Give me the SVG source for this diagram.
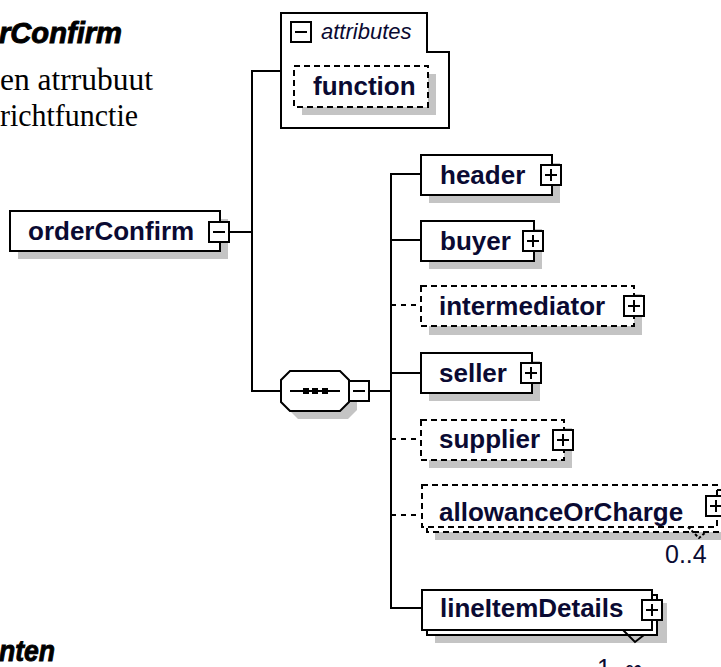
<svg xmlns="http://www.w3.org/2000/svg" xmlns:xlink="http://www.w3.org/1999/xlink" width="721" height="667" viewBox="0 0 721 667">
<style>
.box{fill:#fff;stroke:#000;stroke-width:2}
.dbox{fill:#fff;stroke:#000;stroke-width:2;stroke-dasharray:6 4}
.sh{fill:#c4c4c4}
.lbl{font-family:"Liberation Sans",Arial,sans-serif;font-weight:bold;font-size:26px;fill:#0a0a32}
.ln{stroke:#000;stroke-width:2;fill:none}
.dl{stroke:#000;stroke-width:2;fill:none;stroke-dasharray:5 5}
.ttl{font-family:"Liberation Sans",Arial,sans-serif;font-weight:bold;font-style:italic;font-size:29px;fill:#000;stroke:#000;stroke-width:0.9}
.ser{font-family:"Liberation Serif","Times New Roman",serif;font-size:31px;fill:#000}
.occ{font-family:"Liberation Sans",Arial,sans-serif;font-size:25px;fill:#0a0a32}
</style>
<defs>
<g id="plus"><rect x="0" y="0" width="20" height="20" class="box"/><path d="M4,10H16M10,4V16" class="ln"/></g>
<g id="minus"><rect x="0" y="0" width="20" height="20" class="box"/><path d="M4,10H16" class="ln"/></g>
</defs>

<g id="texts">
<text class="ttl" x="-1" y="43" textLength="123" lengthAdjust="spacingAndGlyphs">rConfirm</text>
<text class="ser" x="0" y="90" textLength="153" lengthAdjust="spacingAndGlyphs">en atrrubuut</text>
<text class="ser" x="0" y="126" textLength="138" lengthAdjust="spacingAndGlyphs">richtfunctie</text>
<text class="ttl" x="-1" y="661" textLength="56" lengthAdjust="spacingAndGlyphs">nten</text>
</g>

<g id="connectors">
<path class="ln" d="M229,232H252"/>
<path class="ln" d="M281,71H252V391H281"/>
<path class="ln" d="M369,391H391"/>
<path class="ln" d="M421,174H391V608H421"/>
<path class="ln" d="M391,240H421"/>
<path class="ln" d="M391,373H421"/>
<path class="dl" d="M391,305H421"/>
<path class="dl" d="M391,439H421"/>
<path class="dl" d="M391,515H421"/>
</g>

<g id="orderConfirm">
<rect class="sh" x="18" y="219" width="210" height="40"/>
<rect class="box" x="10" y="211" width="210" height="40"/>
<text class="lbl" x="28" y="240">orderConfirm</text>
<use xlink:href="#minus" x="209" y="222"/>
</g>

<g id="attributes">
<path class="box" d="M281,13H427V52H449V128H281Z"/>
<use xlink:href="#minus" x="291" y="22"/>
<text x="321" y="39" style="font-family:'Liberation Sans',Arial,sans-serif;font-style:italic;font-size:22px;fill:#0a0a32">attributes</text>
</g>

<g id="function">
<rect class="sh" x="302" y="74" width="134" height="41"/>
<rect class="dbox" x="294" y="66" width="134" height="41"/>
<text class="lbl" x="313" y="95">function</text>
</g>

<g id="sequence">
<polygon class="sh" points="298,379 348,379 357,388 357,410 348,419 298,419 289,410 289,388"/>
<polygon class="box" points="290,371 340,371 349,380 349,402 340,411 290,411 281,402 281,380"/>
<path class="ln" d="M290,391H340"/>
<rect x="303" y="388" width="6" height="6" fill="#000"/>
<rect x="312" y="388" width="6" height="6" fill="#000"/>
<rect x="322" y="388" width="6" height="6" fill="#000"/>
<use xlink:href="#minus" x="349" y="381"/>
</g>

<g id="header">
<rect class="sh" x="429" y="163" width="131" height="40"/>
<rect class="box" x="421" y="155" width="131" height="40"/>
<text class="lbl" x="440" y="184">header</text>
<use xlink:href="#plus" x="541" y="165"/>
</g>

<g id="buyer">
<rect class="sh" x="429" y="229" width="113" height="40"/>
<rect class="box" x="421" y="221" width="113" height="40"/>
<text class="lbl" x="440" y="250">buyer</text>
<use xlink:href="#plus" x="523" y="231"/>
</g>

<g id="intermediator">
<rect class="sh" x="429" y="294" width="213" height="41"/>
<rect class="dbox" x="421" y="286" width="213" height="40"/>
<text class="lbl" x="439" y="315">intermediator</text>
<use xlink:href="#plus" x="624" y="296"/>
</g>

<g id="seller">
<rect class="sh" x="429" y="361" width="111" height="40"/>
<rect class="box" x="421" y="353" width="111" height="40"/>
<text class="lbl" x="439" y="382">seller</text>
<use xlink:href="#plus" x="521" y="363"/>
</g>

<g id="supplier">
<rect class="sh" x="429" y="428" width="143" height="40"/>
<rect class="dbox" x="421" y="420" width="143" height="40"/>
<text class="lbl" x="439" y="448">supplier</text>
<use xlink:href="#plus" x="553" y="430"/>
</g>

<g id="allowanceOrCharge">
<rect class="sh" x="435" y="498" width="300" height="42"/>
<rect class="dbox" x="427" y="490" width="295" height="42"/>
<rect class="dbox" x="422" y="485" width="295" height="42"/>
<text class="lbl" x="439" y="521">allowanceOrCharge</text>
<use xlink:href="#plus" x="706" y="496"/>
<polyline points="688,527 699,538 706,532" fill="none" stroke="#000" stroke-width="2" stroke-dasharray="3 2"/>
<text class="occ" x="665" y="563">0..4</text>
</g>

<g id="lineItemDetails">
<rect class="sh" x="435" y="603" width="232" height="40"/>
<rect class="box" x="427" y="595" width="230" height="40"/>
<rect class="box" x="422" y="590" width="230" height="40"/>
<text class="lbl" x="440" y="617">lineItemDetails</text>
<use xlink:href="#plus" x="642" y="600"/>
<polyline points="623,630 635,642 644,635" fill="none" stroke="#000" stroke-width="2"/>
<text class="occ" x="597" y="677">1..∞</text>
</g>
</svg>
